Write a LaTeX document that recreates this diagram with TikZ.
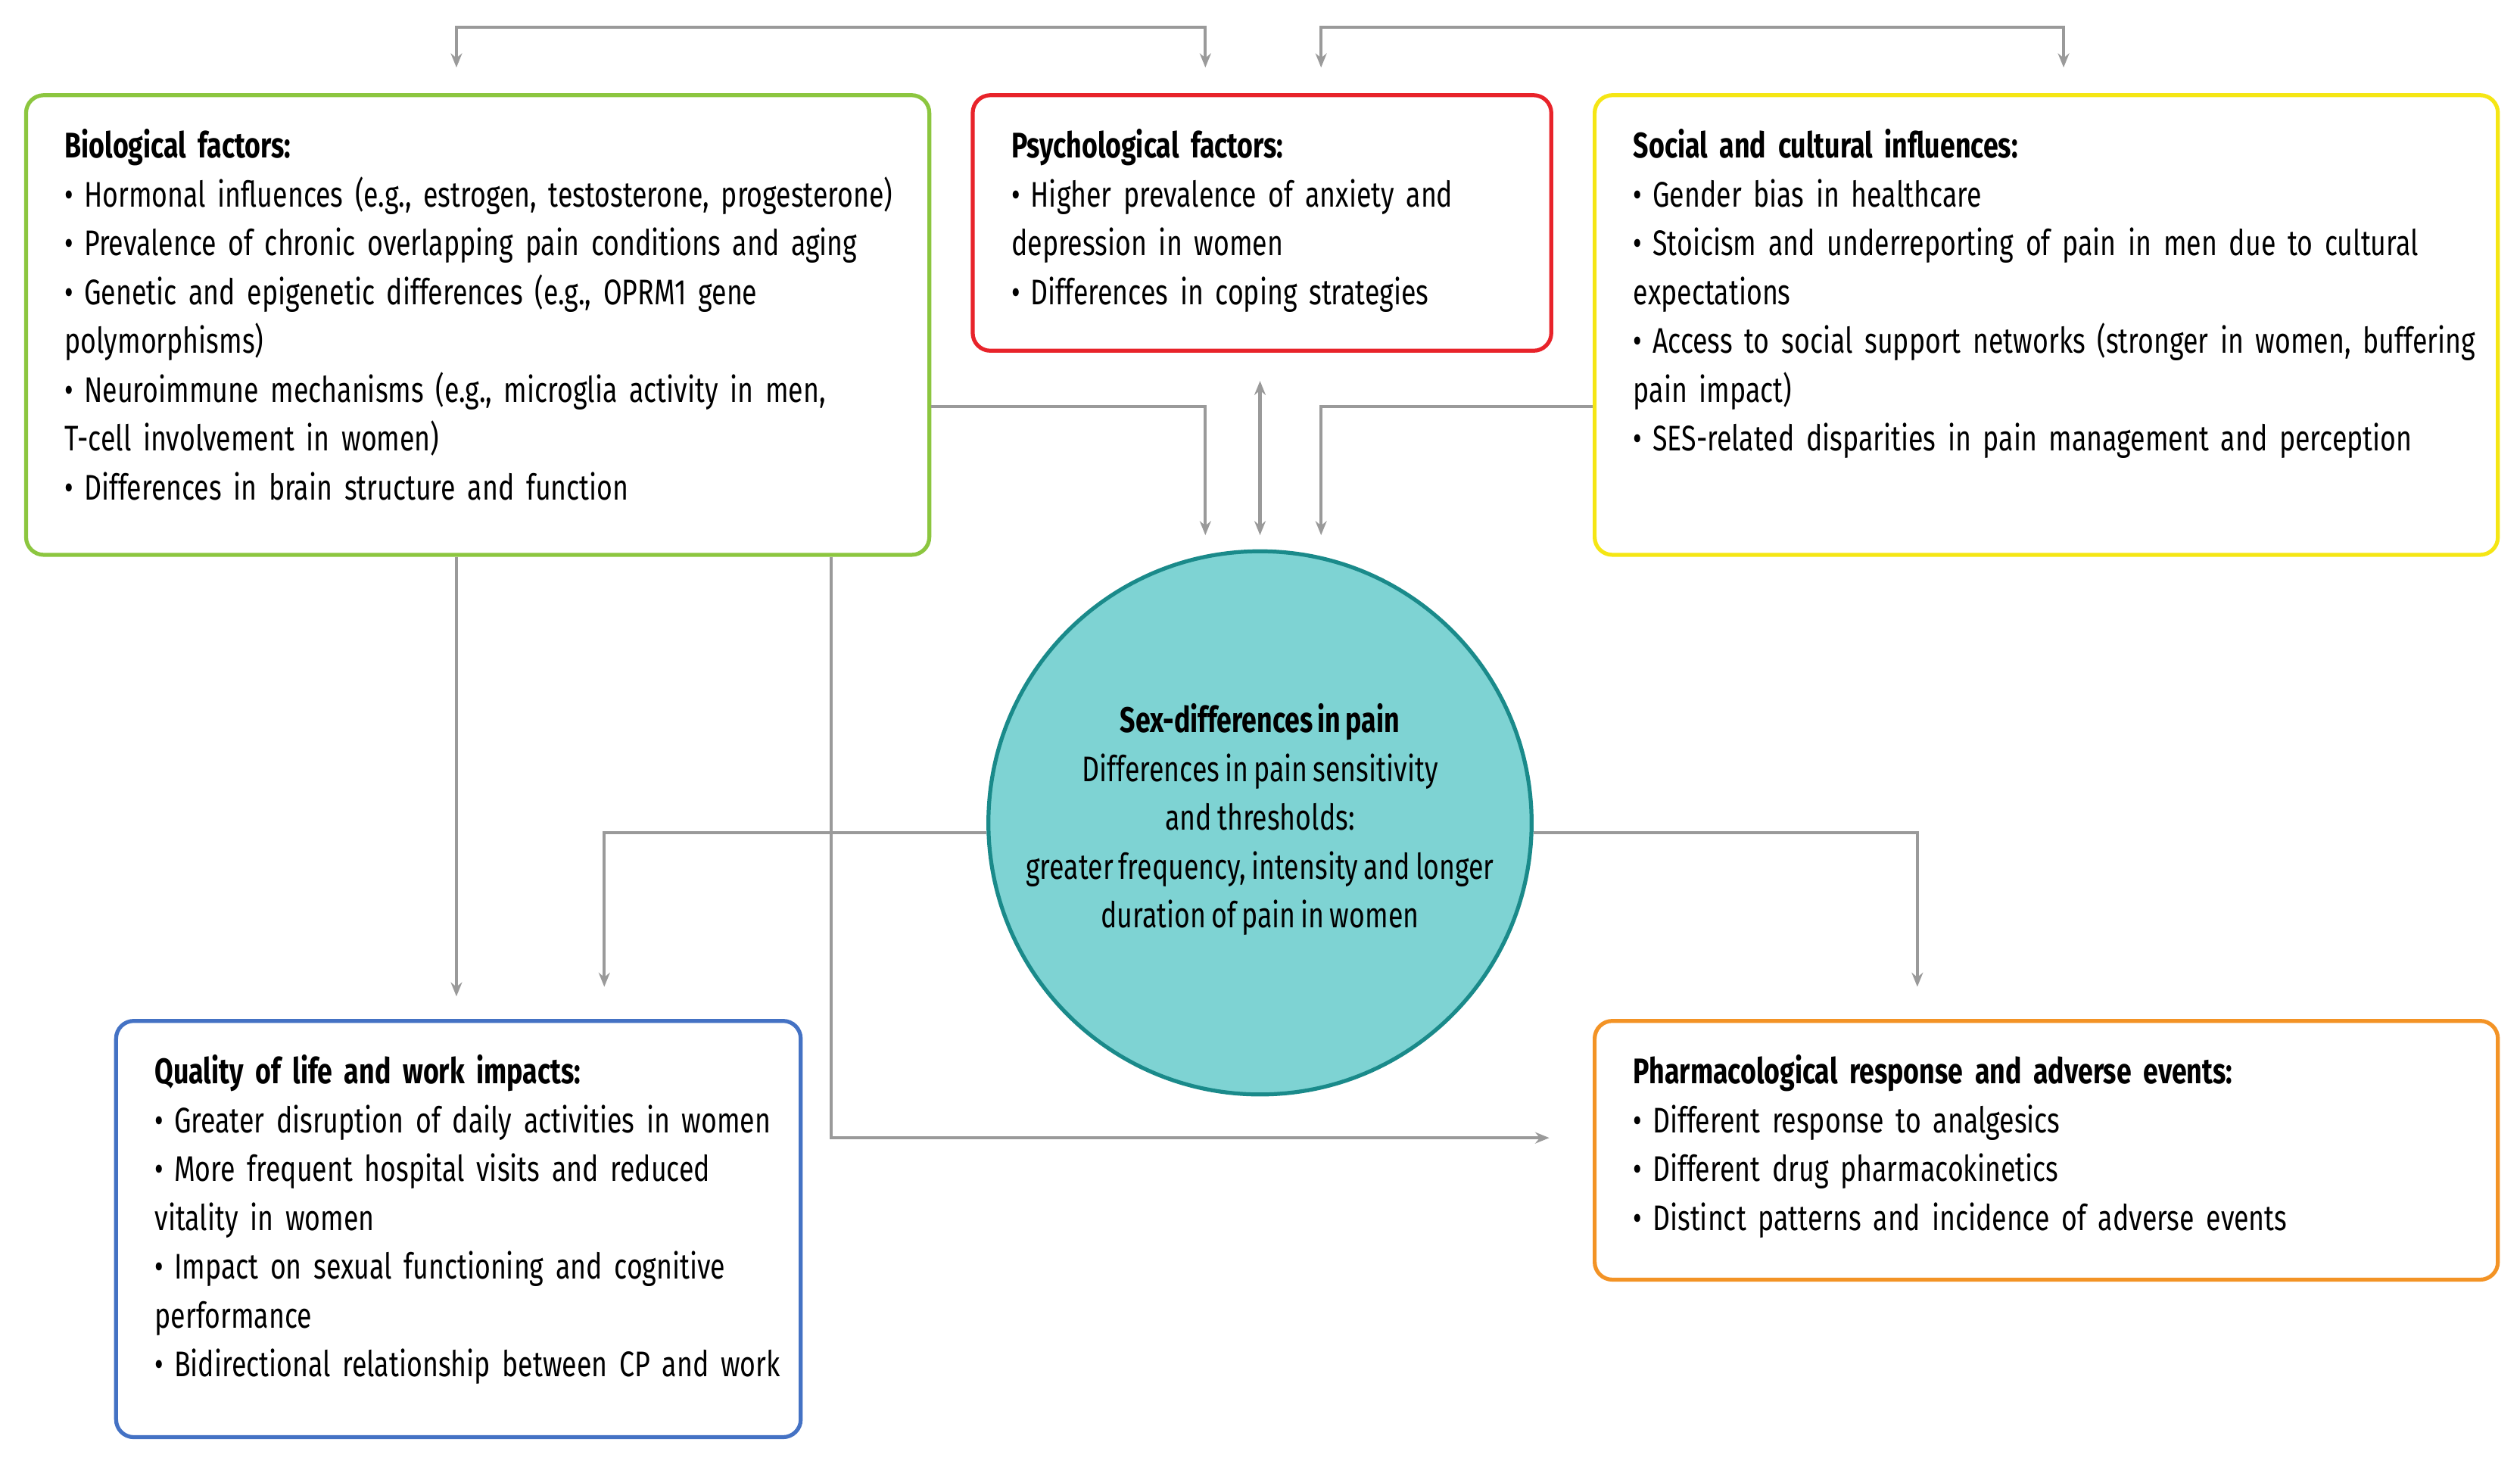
\documentclass[tikz,border=0pt]{standalone}
\usepackage{fontspec}
\setmainfont{Fira Sans}[FakeStretch=0.76,WordSpace=0.75]
\usetikzlibrary{arrows.meta}
\definecolor{cgreen}{HTML}{8CC63F}
\definecolor{cred}{HTML}{E8232A}
\definecolor{cyellow}{HTML}{F5E614}
\definecolor{cblue}{HTML}{4472C4}
\definecolor{corange}{HTML}{F39325}
\definecolor{cteal}{HTML}{7ED3D3}
\definecolor{cteald}{HTML}{1A8A8A}
\definecolor{cgray}{HTML}{9A9A9A}
\newcommand{\bl}[1]{\par\hangindent=0.24cm\hangafter=1\makebox[0.24cm][l]{\textbullet}#1}
\begin{document}
\begin{tikzpicture}[x=0.02cm,y=-0.02cm,
  box/.style={draw,line width=1.4pt,rounded corners=0.22cm,inner sep=0pt},
  txt/.style={anchor=north west,inner sep=0pt,align=left,text width=15cm,font=\fontsize{12.6}{17.3}\selectfont},
  con/.style={draw=cgray,line width=1.1pt,-{Stealth[length=5pt,width=4pt]}},
  con2/.style={draw=cgray,line width=1.1pt,{Stealth[length=5pt,width=4pt]}-{Stealth[length=5pt,width=4pt]}}]
\useasboundingbox (0,0) rectangle (1568,910.5);
% boxes
\node[box,draw=cgreen,minimum width=562*0.02cm,minimum height=286*0.02cm,anchor=north west] (bio) at (15,58) {};
\node[box,draw=cred,minimum width=360*0.02cm,minimum height=159*0.02cm,anchor=north west] (psy) at (604,58) {};
\node[box,draw=cyellow,minimum width=562*0.02cm,minimum height=286*0.02cm,anchor=north west] (soc) at (991,58) {};
\node[box,draw=cblue,minimum width=426*0.02cm,minimum height=259*0.02cm,anchor=north west] (qol) at (71,634) {};
\node[box,draw=corange,minimum width=562*0.02cm,minimum height=161*0.02cm,anchor=north west] (pha) at (991,634) {};
\node[circle,draw=cteald,fill=cteal,line width=1.4pt,minimum size=338*0.02cm,inner sep=0pt] (sex) at (784,512) {};
% texts
\node[txt] (biot) at (40,80) {\textbf{Biological factors:}
\bl{Hormonal influences (e.g., estrogen, testosterone, progesterone)}
\bl{Prevalence of chronic overlapping pain conditions and aging}
\bl{Genetic and epigenetic differences (e.g., OPRM1 gene\\polymorphisms)}
\bl{Neuroimmune mechanisms (e.g., microglia activity in men,\\T-cell involvement in women)}
\bl{Differences in brain structure and function}};
\node[txt] (psyt) at (629,80) {\textbf{Psychological factors:}
\bl{Higher prevalence of anxiety and\\depression in women}
\bl{Differences in coping strategies}};
\node[txt] (soct) at (1016,80) {\textbf{Social and cultural influences:}
\bl{Gender bias in healthcare}
\bl{Stoicism and underreporting of pain in men due to cultural\\expectations}
\bl{Access to social support networks (stronger in women, buffering\\pain impact)}
\bl{SES-related disparities in pain management and perception}};
\node[txt] (qolt) at (96,656) {\textbf{Quality of life and work impacts:}
\bl{Greater disruption of daily activities in women}
\bl{More frequent hospital visits and reduced\\vitality in women}
\bl{Impact on sexual functioning and cognitive\\performance}
\bl{Bidirectional relationship between CP and work}};
\node[txt] (phat) at (1016,656) {\textbf{Pharmacological response and adverse events:}
\bl{Different response to analgesics}
\bl{Different drug pharmacokinetics}
\bl{Distinct patterns and incidence of adverse events}};
\node[inner sep=0pt,align=center,font=\fontsize{12.6}{17.3}\selectfont] (sext) at (784,510) {\textbf{Sex-differences in pain}\\Differences in pain sensitivity\\and thresholds:\\greater frequency, intensity and longer\\duration of pain in women};
% connectors
\coordinate (t1) at (284,42); \coordinate (t2) at (750,42);
\coordinate (t3) at (822,42); \coordinate (t4) at (1284,42);
\draw[con2] (t1) -- (284,17) -- (750,17) -- (t2);
\draw[con2] (t3) -- (822,17) -- (1284,17) -- (t4);
\coordinate (c1) at (750,333); \coordinate (c2) at (784,333); \coordinate (c3) at (822,333);
\draw[con] (bio.east |- 0,253) -- (750,253) -- (c1);
\draw[con2] (784,237) -- (c2);
\draw[con] (soc.west |- 0,253) -- (822,253) -- (c3);
\coordinate (q1) at (284,620); \coordinate (q2) at (376,614);
\coordinate (p1) at (964,708); \coordinate (p2) at (1193,614);
\draw[con] (bio.south -| 284,0) -- (q1);
\draw[con] (sex.west |- 0,518) -- (376,518) -- (q2);
\draw[con] (bio.south -| 517,0) -- (517,708) -- (p1);
\draw[con] (sex.east |- 0,518) -- (1193,518) -- (p2);
\end{tikzpicture}
\end{document}
